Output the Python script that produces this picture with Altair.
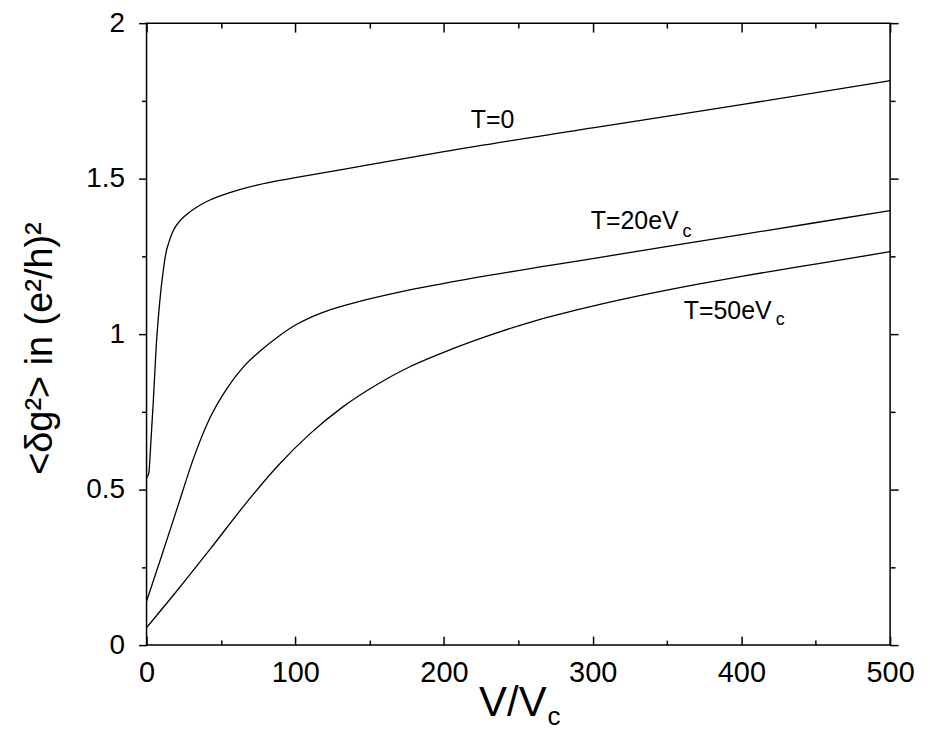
import altair as alt
import pandas as pd

# ---- data ----
x_t0 = [0, 1.5, 3, 4.5, 6.5, 9, 11.7, 13, 15, 18, 22, 27, 35, 43, 51, 62, 75, 87, 100,
        150, 200, 300, 400, 500]
y_t0 = [0.537, 0.553, 0.66, 0.78, 0.96, 1.11, 1.22, 1.26, 1.295, 1.333, 1.362, 1.385, 1.412,
        1.432, 1.447, 1.464, 1.480, 1.492, 1.503, 1.545, 1.587, 1.663, 1.738, 1.815]

x_t20 = [0, 10, 21, 32, 43, 54, 65, 77, 88, 99, 110, 121, 144, 170, 200, 300, 400, 500]
y_t20 = [0.141, 0.285, 0.446, 0.606, 0.734, 0.825, 0.894, 0.948, 0.990, 1.026, 1.053, 1.074,
         1.106, 1.135, 1.163, 1.243, 1.32, 1.397]

x_t50 = [0, 21, 43, 65, 88, 110, 132, 155, 177, 199, 230, 263, 300, 330, 370, 400, 438, 500]
y_t50 = [0.056, 0.178, 0.31, 0.445, 0.575, 0.68, 0.766, 0.838, 0.895, 0.94, 0.995, 1.045,
         1.09, 1.122, 1.16, 1.186, 1.216, 1.265]

series_names = ["T=0", "T=20eVc", "T=50eVc"]

label_text = ["T=0", "T=20eV", "T=50eV"]
label_x = [218, 298.7, 361.2]
label_y = [1.663, 1.339, 1.049]

sub_text = ["c", "c"]
sub_x = [360.4, 423.1]
sub_y = [1.311, 1.028]

x_major = [0, 100, 200, 300, 400, 500]
x_minor = [50, 150, 250, 350, 450]
y_major = [0, 0.5, 1, 1.5, 2]
y_minor = [0.25, 0.75, 1.25, 1.75]

FONT = "Liberation Sans"

rows = []
for name, xs, ys in zip(series_names, [x_t0, x_t20, x_t50], [y_t0, y_t20, y_t50]):
    for xv, yv in zip(xs, ys):
        rows.append({"series": name, "x": xv, "y": yv})
df = pd.DataFrame(rows)

labels_df = pd.DataFrame({"x": label_x, "y": label_y, "text": label_text})
subs_df = pd.DataFrame({"x": sub_x, "y": sub_y, "text": sub_text})
xsub_df = pd.DataFrame({"x": [269.7], "text": ["c"]})

xscale = alt.Scale(domain=[0, 500], nice=False, zero=False)
yscale = alt.Scale(domain=[0, 2], nice=False, zero=False)

common_axis = dict(grid=False, domain=False, tickColor="black", tickWidth=1.5)


def tick_layer(xaxis, yaxis, visible=False):
    mark = alt.Chart(df).mark_line(
        color="black",
        strokeWidth=1.3 if visible else 1,
        strokeOpacity=1 if visible else 0,
        interpolate="monotone",
    )
    return mark.encode(
        x=alt.X("x:Q", scale=xscale, axis=xaxis),
        y=alt.Y("y:Q", scale=yscale, axis=yaxis),
        detail="series:N",
    )


lines = tick_layer(
    alt.Axis(values=x_major, orient="bottom", offset=-9, tickSize=9, labels=True,
             labelFont=FONT, labelFontSize=29, labelColor="black", labelPadding=14,
             labelFlush=False, title=None, **common_axis),
    alt.Axis(values=y_major, orient="left", tickSize=8, labels=True, format="~g",
             labelFont=FONT, labelFontSize=28, labelColor="black", labelPadding=14,
             labelFlush=False,
             title="<δg²> in (e²/h)²", titleFont=FONT, titleFontSize=38,
             titleFontWeight="normal", titleColor="black", titleAngle=270,
             titleBaseline="alphabetic", titleX=-95, titleY=326, **common_axis),
    visible=True,
)

minor_bl = tick_layer(
    alt.Axis(values=x_minor, orient="bottom", offset=-5, tickSize=5, labels=False,
             title=None, **common_axis),
    alt.Axis(values=y_minor, orient="left", tickSize=5, labels=False, title=None, **common_axis),
)

major_tr = tick_layer(
    alt.Axis(values=x_major, orient="top", offset=-9, tickSize=9, labels=False,
             title=None, **common_axis),
    alt.Axis(values=y_major, orient="right", tickSize=8, labels=False, title=None, **common_axis),
)

minor_tr = tick_layer(
    alt.Axis(values=x_minor, orient="top", offset=-5, tickSize=5, labels=False,
             title=None, **common_axis),
    alt.Axis(values=y_minor, orient="right", tickSize=5, labels=False, title=None, **common_axis),
)

title_layer = tick_layer(
    alt.Axis(orient="bottom", ticks=False, labels=False, domain=False, grid=False,
             title="V/V", titleFont=FONT, titleFontSize=42, titleFontWeight="normal",
             titleColor="black", titleBaseline="alphabetic", titleX=367, titleY=71),
    None,
)

curve_labels = alt.Chart(labels_df).mark_text(
    font=FONT, fontSize=25, align="left", baseline="alphabetic", color="black"
).encode(
    x=alt.X("x:Q", scale=xscale, axis=None),
    y=alt.Y("y:Q", scale=yscale, axis=None),
    text="text:N",
)

curve_subs = alt.Chart(subs_df).mark_text(
    font=FONT, fontSize=18, align="left", baseline="alphabetic", color="black"
).encode(
    x=alt.X("x:Q", scale=xscale, axis=None),
    y=alt.Y("y:Q", scale=yscale, axis=None),
    text="text:N",
)

xtitle_sub = alt.Chart(xsub_df).mark_text(
    font=FONT, fontSize=26, align="left", baseline="alphabetic", color="black"
).encode(
    x=alt.X("x:Q", scale=xscale, axis=None),
    y=alt.value(704),
    text="text:N",
)

chart = (
    alt.layer(lines, minor_bl, major_tr, minor_tr, title_layer,
              curve_labels, curve_subs, xtitle_sub)
    .resolve_axis(x="independent", y="independent")
    .properties(
        width=746,
        height=624,
        autosize=alt.AutoSizeParams(type="none"),
        padding={"left": 139, "top": 14, "right": 32, "bottom": 87},
        background="white",
    )
    .configure_view(stroke="black", strokeWidth=1.5)
)

chart.save("out.html", embed_options={"renderer": "svg", "actions": False})
